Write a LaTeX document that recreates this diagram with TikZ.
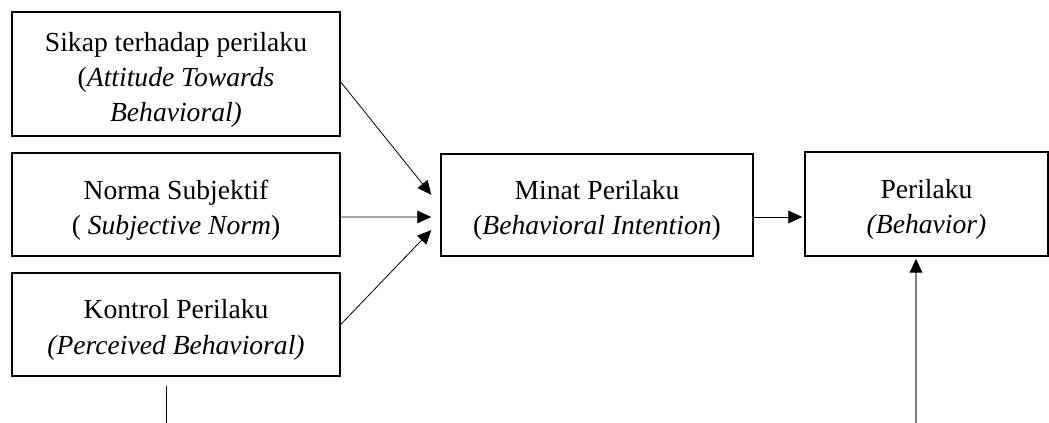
\documentclass[tikz,border=0pt]{standalone}
\usepackage{fontspec}
\setmainfont{Liberation Serif}
\usetikzlibrary{arrows.meta}
\begin{document}
\begin{tikzpicture}[x=0.75pt,y=-0.75pt,
  box/.style={draw, line width=1.1pt, inner sep=0pt},
  txt/.style={align=center, inner sep=0pt, font=\fontsize{20.7}{26.3}\selectfont},
  arr/.style={-{Triangle[length=10.5pt,width=9.5pt]}, line width=0.6pt},
  plain/.style={line width=0.6pt}]
\useasboundingbox (0,0) rectangle (1049,423);
\node[box, minimum width=246pt, minimum height=93pt] (att) at (176,74) {};
\node[box, minimum width=246pt, minimum height=77.25pt] (sn) at (176,204.5) {};
\node[box, minimum width=246pt, minimum height=77.25pt] (pbc) at (176,324.5) {};
\node[box, minimum width=234pt, minimum height=76.5pt] (bi) at (597,205) {};
\node[box, minimum width=182.25pt, minimum height=78pt] (beh) at (926.5,204) {};
\node[txt] (att-t) at ([yshift=-4.5pt]att.center)
  {Sikap terhadap perilaku\\(\textit{Attitude Towards}\\\textit{Behavioral)}};
\node[txt] (sn-t) at ([yshift=-4pt]sn.center)
  {Norma Subjektif\\( \textit{Subjective Norm})};
\node[txt] (pbc-t) at ([yshift=-4pt]pbc.center)
  {Kontrol Perilaku\\\textit{(Perceived Behavioral)}};
\node[txt] (bi-t) at ([yshift=-4pt]bi.center)
  {Minat Perilaku\\(\textit{Behavioral Intention})};
\node[txt] (beh-t) at ([yshift=-4pt]beh.center)
  {Perilaku\\\textit{(Behavior)}};
\coordinate (lowL) at (166,423);
\coordinate (lowR) at (916,423);
\draw[arr, shorten >=10.7pt] ([yshift=-6pt]att.east) -- ([yshift=-0.75pt]bi.west);
\draw[arr, shorten >=6.75pt] ([yshift=-9.4pt]sn.east) -- ([yshift=-9pt]bi.west);
\draw[arr, shorten >=9.7pt] (pbc.east) -- ([yshift=-11.8pt]bi.west);
\draw[arr, shorten >=1.5pt] ([yshift=-9pt]bi.east) -- ([yshift=-9.75pt]beh.west);
\draw[plain, shorten <=6.75pt] (pbc.south -| lowL) -- (lowL);
\draw[-{Triangle[length=10.5pt,width=9.5pt,color=black]}, line width=0.9pt, draw=gray, shorten >=1.5pt] (lowR) -- (lowR |- beh.south);
\end{tikzpicture}
\end{document}
